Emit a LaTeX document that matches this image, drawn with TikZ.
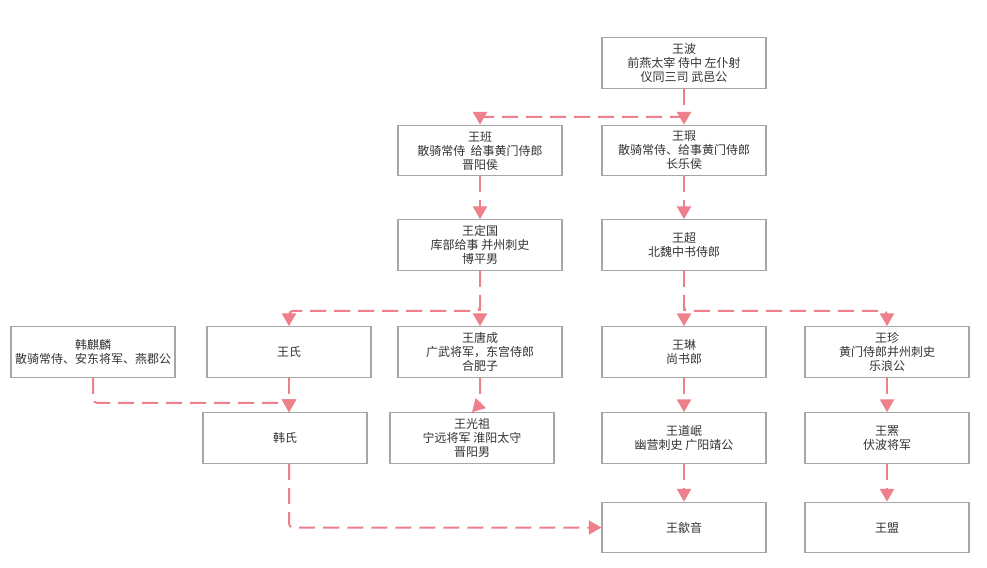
\documentclass[tikz,border=0pt]{standalone}
\usepackage{fontspec}
\newfontfamily\cjk{Noto Sans CJK SC}
\usepackage{tikz}
\usetikzlibrary{calc,arrows.meta}

\definecolor{boxgray}{RGB}{166,166,166}
\definecolor{linkpink}{RGB}{238,128,140}
\definecolor{textgray}{RGB}{51,51,51}

\tikzset{
  person/.style={draw=boxgray, line width=0.8pt, fill=white, inner sep=1pt,
    minimum width=123pt, minimum height=38pt, align=center,
    text=textgray, font=\cjk\fontsize{9}{10.5}\selectfont},
  link/.style={draw=linkpink, line width=1.5pt, dash pattern=on 12pt off 6pt,
    rounded corners=3pt, -{Triangle[length=9.5pt,width=10.5pt]}}
}

\begin{document}
\begin{tikzpicture}[x=0.75pt,y=-0.75pt]
  \useasboundingbox (0,0) rectangle (987,567);

  %% First generations
  \node[person] (wangbo) at (684,63) {王波\\前燕太宰 侍中 左仆射\\仪同三司 武邑公};
  \node[person] (wangban) at (480,150.5) {王班\\散骑常侍 \ 给事黄门侍郎\\晋阳侯};
  \node[person] (wangxia) at (684,150.5) {王瑕\\散骑常侍、给事黄门侍郎\\长乐侯};
  \node[person] (wangdingguo) at (480,245) {王定国\\库部给事 并州刺史\\博平男};
  \node[person] (wangchao) at (684,245) {王超\\北魏中书侍郎};

  %% Middle row
  \node[person] (hanqilin) at (93,352) {韩麒麟\\散骑常侍、安东将军、燕郡公};
  \node[person] (wangshi) at (289,352) {王氏};
  \node[person] (wangtangcheng) at (480,352) {王唐成\\广武将军，东宫侍郎\\合肥子};
  \node[person] (wanglin) at (684,352) {王琳\\尚书郎};
  \node[person] (wangzhen) at (887,352) {王珍\\黄门侍郎并州刺史\\乐浪公};

  %% Lower rows
  \node[person] (hanshi) at (285,438) {韩氏};
  \node[person] (wangguangzu) at (472,438) {王光祖\\宁远将军 淮阳太守\\晋阳男};
  \node[person] (wangdaomin) at (684,438) {王道岷\\幽营刺史 广阳靖公};
  \node[person] (wangpi) at (887,438) {王罴\\伏波将军};
  \node[person] (wangxiyin) at (684,527.5) {王歙音};
  \node[person] (wangmeng) at (887,527.5) {王盟};

  %% Straight links
  \foreach \a/\b in {wangbo/wangxia, wangban/wangdingguo, wangxia/wangchao,
                     wangdingguo/wangtangcheng, wangchao/wanglin,
                     wanglin/wangdaomin, wangdaomin/wangxiyin,
                     wangzhen/wangpi, wangpi/wangmeng}
  {
    \draw[link] (\a.south) -- (\b.north);
  }

  %% Bent links
  \draw[link] (wangbo.south) -- ++(0,28) -| (wangban.north);
  \draw[link] (wangdingguo.south) -- ++(0,40) -| (wangshi.north);
  \draw[link] (wangchao.south) -- ++(0,40) -| (wangzhen.north);
  \draw[link] (wangtangcheng.south) -- ++(0,26) -- (wangguangzu.north);
  \draw[link] (wangshi.south) -- (wangshi |- hanshi.north);
  \draw[link] (hanqilin.south) -- ++(0,25) -| (wangshi |- hanshi.north);
  \draw[link] (wangshi |- hanshi.south) |- (wangxiyin.west);
\end{tikzpicture}
\end{document}
